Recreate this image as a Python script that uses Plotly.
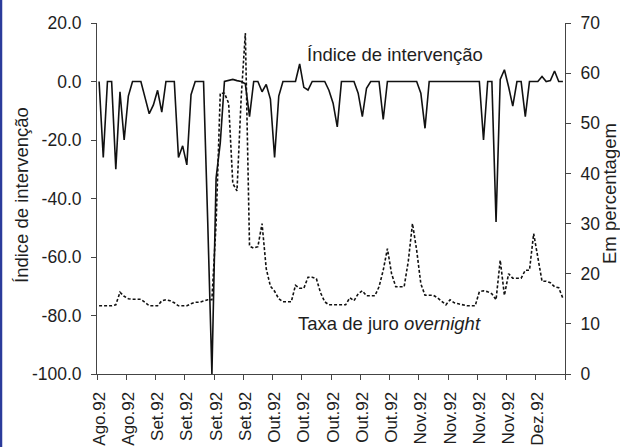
import plotly.graph_objects as go

# Category index (business days), Aug–Dec 1992
days = list(range(1, 113))

# Índice de intervenção (left axis)
indice = [
    0, -26, 0, 0, -30, -3.5, -20, -5, 0, 0,
    0, -5.5, -11, -8, -3, -10.5, 0, 0, 0, -26,
    -22, -28.5, -4.5, 0, 0, 0, -48, -100, -33, -21,
    0, 0.3, 0.7, 0.3, 0, -0.8, -12, 0, 0, -3.5,
    -1, -6, -26, -5, 0, 0, 0, 0, 6, -2,
    -2.9, 0, 0, 0, 0, -3, -7.4, -15.5, 0, 0,
    0, 0, -4, -12, -2.3, 0, 0, 0, -13, 0,
    0, 0, 0, 0, 0, 0, 0, -4, -16, 0,
    0, 0, 0, 0, 0, 0, 0, 0, 0, 0,
    0, 0, -20, 0, 0, -48, 0.7, 4, -1.8, -8.4,
    0, 0, -12, 0, 0, 0, 1.7, 0, 0.3, 3.6,
    0, 0,
]

# Taxa de juro overnight, % (right axis)
taxa = [
    13.6, 13.6, 13.6, 13.6, 13.8, 16.3, 15.5, 15.0, 14.9, 14.9,
    14.9, 14.3, 13.6, 13.6, 13.6, 14.6, 14.8, 14.6, 14.2, 13.6,
    13.6, 13.6, 14.0, 14.3, 14.3, 14.6, 14.8, 14.8, 30.0, 56.0,
    56.0, 54.0, 38.0, 36.5, 55.0, 68.0, 25.5, 25.1, 25.4, 30.0,
    21.0, 17.5, 16.5, 15.0, 14.4, 14.4, 14.4, 17.7, 17.1, 17.1,
    19.3, 19.3, 19.0, 16.2, 14.4, 13.8, 13.8, 13.8, 13.8, 13.8,
    15.2, 14.6, 16.0, 16.6, 15.6, 15.6, 15.6, 17.4, 20.7, 25.0,
    20.0, 17.4, 17.4, 17.4, 22.5, 30.0, 24.7, 18.0, 15.7, 15.7,
    15.7, 15.2, 14.4, 13.8, 14.8, 14.2, 14.0, 13.8, 13.6, 13.6,
    13.6, 16.4, 16.6, 16.4, 16.0, 14.8, 22.7, 15.7, 20.0, 19.1,
    19.1, 19.1, 20.7, 20.7, 28.0, 23.4, 18.5, 18.5, 18.2, 17.4,
    17.2, 15.1,
]

label_pos = [1, 8, 15, 22, 29, 36, 43, 50, 57, 64, 71, 78, 85, 92, 99, 106]
label_text = ["Ago.92", "Ago.92", "Set.92", "Set.92", "Set.92", "Set.92",
              "Out.92", "Out.92", "Out.92", "Out.92", "Out.92",
              "Nov.92", "Nov.92", "Nov.92", "Nov.92", "Dez.92"]
tick_bounds = [0.5 + 7 * k for k in range(17)]

left_vals = [-100, -80, -60, -40, -20, 0, 20]
left_text = ["-100.0", "-80.0", "-60.0", "-40.0", "-20.0", "0.0", "20.0"]
right_vals = [0, 10, 20, 30, 40, 50, 60, 70]

FONT = "Liberation Sans, Arial, sans-serif"
TXT = "#1e1e1e"
AX = "#444444"
TICKF = 17.5
ANNF = 18.5

fig = go.Figure()
fig.add_trace(go.Scatter(x=days, y=indice, mode="lines",
                         line=dict(color="#111111", width=1.6),
                         name="Índice de intervenção", yaxis="y"))
fig.add_trace(go.Scatter(x=days, y=taxa, mode="lines",
                         line=dict(color="#111111", width=1.6, dash="3px,2px"),
                         name="Taxa de juro overnight", yaxis="y2"))

fig.update_layout(
    width=620, height=447,
    margin=dict(l=97, r=55, t=23, b=73, autoexpand=False),
    paper_bgcolor="white", plot_bgcolor="white",
    showlegend=False,
    font=dict(family=FONT, size=TICKF, color=TXT),
    xaxis=dict(
        range=[0.5, 112.5], showgrid=False, zeroline=False, automargin=False,
        showline=True, linecolor=AX, linewidth=1,
        tickmode="array", tickvals=label_pos, ticktext=label_text,
        ticks="", tickangle=-90, ticklabelstandoff=10,
        tickfont=dict(size=17),
        minor=dict(tickmode="array", tickvals=tick_bounds, ticks="outside",
                   ticklen=5, tickcolor=AX, showgrid=False),
    ),
    yaxis=dict(
        range=[-100, 20], tickmode="array", automargin=False,
        tickvals=left_vals, ticktext=left_text,
        showgrid=False, zeroline=False,
        showline=True, linecolor=AX, linewidth=1,
        ticks="outside", ticklen=5, tickcolor=AX, ticklabelstandoff=6,
    ),
    yaxis2=dict(
        range=[0, 70], overlaying="y", side="right", automargin=False,
        tickmode="array", tickvals=right_vals,
        showgrid=False, zeroline=False,
        showline=True, linecolor=AX, linewidth=1,
        ticks="outside", ticklen=5, tickcolor=AX, ticklabelstandoff=6,
    ),
    annotations=[
        dict(text="Índice de intervenção", xref="paper", yref="paper",
             x=(21 - 97) / 468, y=1 - (195 - 23) / 351, textangle=-90,
             showarrow=False, xanchor="center", yanchor="middle",
             font=dict(size=ANNF, color=TXT)),
        dict(text="Em percentagem", xref="paper", yref="paper",
             x=(609 - 97) / 468, y=1 - (194 - 23) / 351, textangle=-90,
             showarrow=False, xanchor="center", yanchor="middle",
             font=dict(size=ANNF, color=TXT)),
        dict(text="Índice de intervenção", xref="x", yref="y",
             x=71.7, y=9.1, showarrow=False, xanchor="center", yanchor="middle",
             font=dict(size=ANNF, color=TXT)),
        dict(text="Taxa de juro <i>overnight</i>", xref="x", yref="y",
             x=70.6, y=-82.6, showarrow=False, xanchor="center", yanchor="middle",
             font=dict(size=ANNF, color=TXT)),
    ],
    shapes=[
        dict(type="line", xref="paper", yref="paper",
             x0=-96/468, x1=-96/468, y0=-73/351, y1=1 + 23/351,
             line=dict(color="#2b3b9b", width=2.5)),
    ],
)

fig.write_html("out.html")
